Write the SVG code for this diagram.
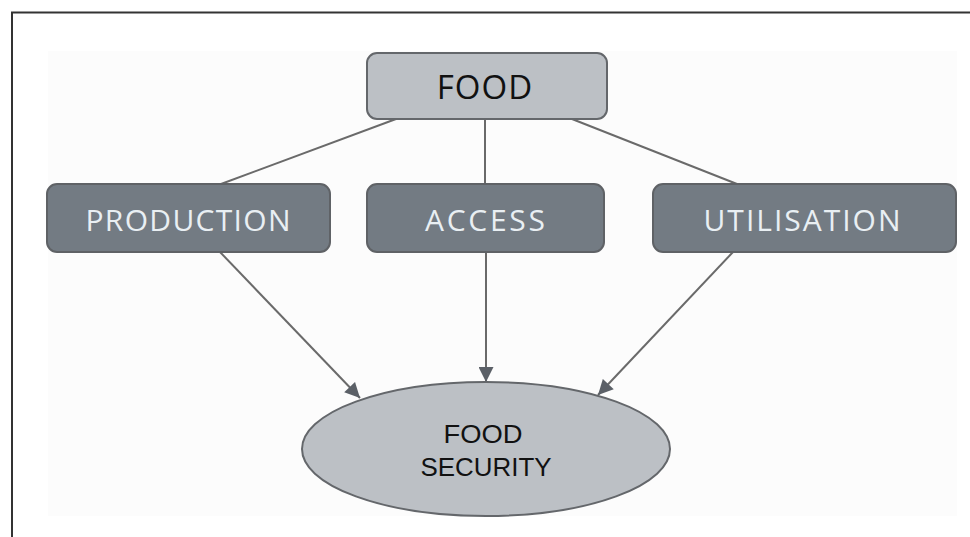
<svg xmlns="http://www.w3.org/2000/svg" width="970" height="537" viewBox="0 0 970 537">
<defs>
<marker id="ah" viewBox="0 0 10 10" refX="10" refY="5" markerWidth="8" markerHeight="7.5" markerUnits="strokeWidth" orient="auto">
<path d="M0,0 L10,5 L0,10 Z" fill="#5b6067"/>
</marker>
<style>
.frame{fill:none;stroke:#333;stroke-width:2}
.panel{fill:#fcfcfc}
.light{fill:#bcc0c5;stroke:#64676b;stroke-width:2}
.dark{fill:#737b83;stroke:#5f6266;stroke-width:2}
.conn{stroke:#6a6a6a;stroke-width:2;fill:none}
.t{font-family:"Open Sans","Liberation Sans",sans-serif;text-anchor:middle}
.ts{font-family:"Liberation Sans",Arial,sans-serif;text-anchor:middle}
.td{fill:#111}
.tl{fill:#e9eff3}
</style>
</defs>
<rect x="0" y="0" width="970" height="537" fill="#ffffff"/>
<path class="frame" d="M12,545 L12,12.5 L975,12.5"/>
<rect class="panel" x="48" y="51" width="909" height="465"/>
<g id="connectors">
<line class="conn" x1="396" y1="119" x2="221" y2="184"/>
<line class="conn" x1="485" y1="119" x2="485" y2="184"/>
<line class="conn" x1="572" y1="119" x2="737" y2="184"/>
<line class="conn" x1="220" y1="252" x2="360" y2="398" marker-end="url(#ah)"/>
<line class="conn" x1="486" y1="252" x2="486" y2="382" marker-end="url(#ah)"/>
<line class="conn" x1="733" y1="252" x2="598" y2="395" marker-end="url(#ah)"/>
</g>
<g id="food">
<rect class="light" x="367" y="53" width="240" height="66" rx="10"/>
<text class="t td" x="485" y="99" font-size="33" letter-spacing="1">FOOD</text>
</g>
<g id="production">
<rect class="dark" x="47" y="184" width="283" height="68" rx="10"/>
<text class="t tl" x="188" y="231" font-size="30" textLength="205" lengthAdjust="spacing">PRODUCTION</text>
</g>
<g id="access">
<rect class="dark" x="367" y="184" width="237" height="68" rx="10"/>
<text class="t tl" x="485" y="231" font-size="30" textLength="120" lengthAdjust="spacing">ACCESS</text>
</g>
<g id="utilisation">
<rect class="dark" x="653" y="184" width="303" height="68" rx="10"/>
<text class="t tl" x="802" y="231" font-size="30" textLength="197" lengthAdjust="spacing">UTILISATION</text>
</g>
<g id="food-security">
<ellipse class="light" cx="486" cy="449" rx="184" ry="67"/>
<text class="ts td" x="483" y="443" font-size="26" textLength="79" lengthAdjust="spacingAndGlyphs">FOOD</text>
<text class="ts td" x="486" y="476" font-size="26" textLength="131" lengthAdjust="spacingAndGlyphs">SECURITY</text>
</g>
</svg>
